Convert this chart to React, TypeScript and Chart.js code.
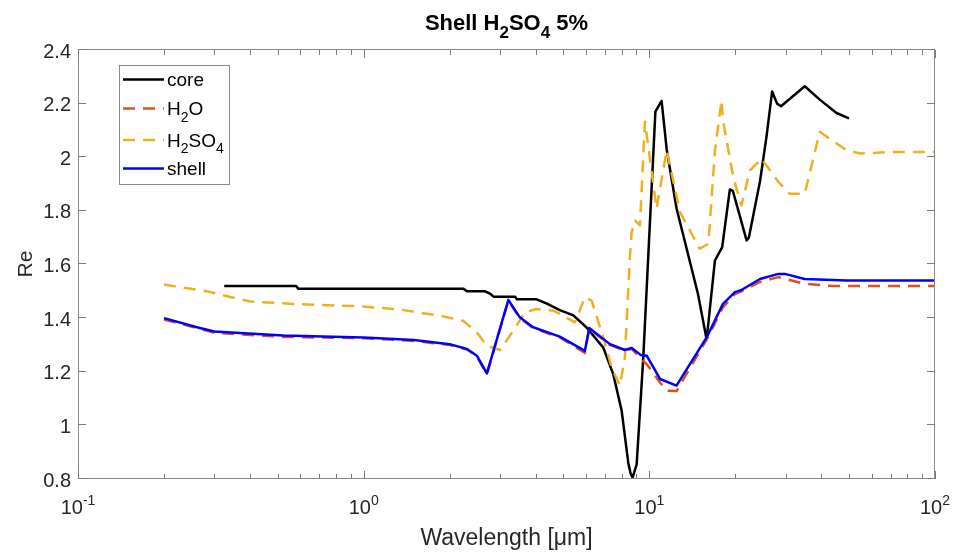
import { useEffect, useRef } from "react";
import { Chart, registerables } from "chart.js";
Chart.register(...registerables);

// ---- data (wavelength in µm, real refractive index) ----
const coreX = [0.325, 0.58, 0.59, 2.23, 2.3, 2.66, 2.78, 2.85, 3.39, 3.44, 4.03, 4.36, 4.86, 5.42, 6.03, 6.9, 7.48, 8.0, 8.44, 8.6, 8.74, 9.03, 9.52, 10.5, 11.04, 11.5, 12.45, 14.8, 15.87, 16.97, 17.99, 19.14, 19.6, 21.9, 22.3, 24.4, 25.7, 26.9, 28.0, 28.9, 35.0, 39.5, 45.2, 50.0];
const coreY = [1.52, 1.52, 1.51, 1.51, 1.5, 1.5, 1.49, 1.48, 1.48, 1.47, 1.47, 1.455, 1.43, 1.41, 1.365, 1.29, 1.19, 1.055, 0.86, 0.82, 0.805, 0.855, 1.25, 2.17, 2.21, 2.03, 1.81, 1.49, 1.32, 1.615, 1.665, 1.88, 1.875, 1.69, 1.7, 1.91, 2.075, 2.245, 2.2, 2.19, 2.265, 2.215, 2.165, 2.145];

const h2oX = [0.2, 0.267, 0.3, 0.523, 1.0, 1.5, 2.0, 2.3, 2.49, 2.7, 3.21, 3.52, 3.92, 4.86, 5.95, 6.16, 7.28, 8.21, 8.67, 9.35, 9.9, 10.9, 11.5, 12.45, 15.87, 18.1, 19.94, 21.0, 24.4, 28.3, 35.0, 43.5, 100];
const h2oY = [1.395, 1.36, 1.345, 1.33, 1.325, 1.315, 1.3, 1.283, 1.257, 1.19, 1.465, 1.4, 1.363, 1.328, 1.27, 1.36, 1.3, 1.278, 1.285, 1.25, 1.222, 1.16, 1.129, 1.128, 1.32, 1.44, 1.49, 1.5, 1.535, 1.553, 1.528, 1.52, 1.52];

const h2so4X = [0.2, 0.282, 0.4, 0.567, 0.97, 1.34, 1.85, 2.23, 2.49, 2.7, 3.0, 3.34, 3.67, 4.03, 4.61, 4.86, 5.49, 5.95, 6.28, 6.9, 7.38, 7.89, 8.21, 8.55, 8.67, 8.91, 9.27, 9.65, 9.83, 10.6, 11.5, 12.8, 15.0, 16.1, 16.97, 17.9, 18.1, 19.67, 21.0, 22.5, 24.7, 28.3, 31.0, 35.0, 39.5, 49.0, 54.8, 71.4, 100];
const h2so4Y = [1.525, 1.5, 1.462, 1.453, 1.444, 1.432, 1.409, 1.39, 1.347, 1.297, 1.281, 1.353, 1.422, 1.434, 1.428, 1.416, 1.384, 1.478, 1.465, 1.328, 1.216, 1.148, 1.253, 1.627, 1.72, 1.764, 1.746, 2.132, 2.07, 1.808, 2.026, 1.796, 1.659, 1.677, 2.026, 2.213, 2.138, 1.926, 1.82, 1.951, 1.995, 1.908, 1.864, 1.864, 2.095, 2.026, 2.014, 2.02, 2.02];

const shellX = [0.2, 0.267, 0.3, 0.523, 1.0, 1.5, 2.0, 2.3, 2.49, 2.7, 3.21, 3.52, 3.92, 4.86, 5.95, 6.16, 7.28, 8.21, 8.67, 9.35, 9.79, 10.9, 12.45, 15.87, 18.1, 19.94, 21.0, 24.4, 28.3, 29.8, 35.0, 49.0, 100];
const shellY = [1.4, 1.363, 1.35, 1.335, 1.328, 1.318, 1.303, 1.285, 1.26, 1.194, 1.468, 1.403, 1.366, 1.331, 1.278, 1.363, 1.303, 1.281, 1.289, 1.262, 1.26, 1.173, 1.148, 1.328, 1.453, 1.497, 1.505, 1.546, 1.565, 1.565, 1.546, 1.54, 1.54];

const xMajorTicks = [0.1, 1, 10, 100];
const xTickBase = ["10", "10", "10", "10"];
const xTickExp = ["-1", "0", "1", "2"];
const yTicks = [0.8, 1, 1.2, 1.4, 1.6, 1.8, 2, 2.2, 2.4];
const yTickLabels = ["0.8", "1", "1.2", "1.4", "1.6", "1.8", "2", "2.2", "2.4"];

type Part = { t: string; sub?: boolean };
const titleParts: Part[] = [{ t: "Shell H" }, { t: "2", sub: true }, { t: "SO" }, { t: "4", sub: true }, { t: " 5%" }];
const DASH = [12, 8];
const legendItems: { parts: Part[]; color: string; dash: number[] }[] = [
  { parts: [{ t: "core" }], color: "#000000", dash: [] },
  { parts: [{ t: "H" }, { t: "2", sub: true }, { t: "O" }], color: "#D95319", dash: DASH },
  { parts: [{ t: "H" }, { t: "2", sub: true }, { t: "SO" }, { t: "4", sub: true }], color: "#EDB120", dash: DASH },
  { parts: [{ t: "shell" }], color: "#0000FF", dash: [] },
];

const FONT = '"Liberation Sans", Arial, Helvetica, sans-serif';
const TXT = "#262626";

function richWidth(ctx: CanvasRenderingContext2D, parts: Part[], size: number, bold: boolean) {
  let w = 0;
  for (const p of parts) {
    ctx.font = `${bold ? "bold " : ""}${p.sub ? Math.round(size * 0.75) : size}px ${FONT}`;
    w += ctx.measureText(p.t).width;
  }
  return w;
}
function drawRich(ctx: CanvasRenderingContext2D, parts: Part[], x: number, baseline: number, size: number, bold: boolean) {
  let cx = x;
  for (const p of parts) {
    const s = p.sub ? Math.round(size * 0.75) : size;
    ctx.font = `${bold ? "bold " : ""}${s}px ${FONT}`;
    ctx.textAlign = "left";
    ctx.textBaseline = "alphabetic";
    ctx.fillText(p.t, cx, baseline + (p.sub ? size * 0.35 : 0));
    cx += ctx.measureText(p.t).width;
  }
}

const decor = {
  id: "decor",
  afterDatasetsDraw(chart: any) {
    const ctx: CanvasRenderingContext2D = chart.ctx;
    const { left, right, top, bottom } = chart.chartArea;
    const xs = chart.scales.x;
    const ys = chart.scales.y;
    ctx.save();
    // box
    ctx.strokeStyle = "#8a8a8a";
    ctx.lineWidth = 1;
    ctx.setLineDash([]);
    ctx.strokeRect(Math.round(left) + 0.5, Math.round(top) - 0.5, Math.round(right - left) - 1, Math.round(bottom - top));
    // ticks
    ctx.strokeStyle = "#7a7a7a";
    ctx.beginPath();
    for (let d = 0; d < xMajorTicks.length; d++) {
      const base = xMajorTicks[d];
      for (let m = 1; m <= 9; m++) {
        const v = base * m;
        if (v > 100.0001) break;
        const px = Math.round(xs.getPixelForValue(v)) + 0.5;
        const len = m === 1 ? 8 : 5;
        ctx.moveTo(px, bottom);
        ctx.lineTo(px, bottom - len);
        ctx.moveTo(px, top);
        ctx.lineTo(px, top + len);
      }
    }
    for (const v of yTicks) {
      const py = Math.round(ys.getPixelForValue(v)) - 0.5;
      ctx.moveTo(left, py);
      ctx.lineTo(left + 8, py);
      ctx.moveTo(right, py);
      ctx.lineTo(right - 8, py);
    }
    ctx.stroke();

    ctx.fillStyle = TXT;
    // y tick labels
    ctx.font = `20px ${FONT}`;
    ctx.textAlign = "right";
    ctx.textBaseline = "alphabetic";
    yTicks.forEach((v, i) => {
      ctx.fillText(yTickLabels[i], left - 7, ys.getPixelForValue(v) + 7.5);
    });
    // x tick labels with superscripts
    xMajorTicks.forEach((v, i) => {
      ctx.font = `20px ${FONT}`;
      const wb = ctx.measureText(xTickBase[i]).width;
      ctx.font = `14px ${FONT}`;
      const we = ctx.measureText(xTickExp[i]).width;
      const cx = xs.getPixelForValue(v);
      const x0 = cx - (wb + we) / 2;
      ctx.textAlign = "left";
      ctx.font = `20px ${FONT}`;
      ctx.fillText(xTickBase[i], x0, 514);
      ctx.font = `14px ${FONT}`;
      ctx.fillText(xTickExp[i], x0 + wb, 505);
    });
    // x title
    ctx.font = `23px ${FONT}`;
    ctx.textAlign = "center";
    ctx.fillText("Wavelength [\u03BCm]", (left + right) / 2, 545);
    // y title
    ctx.save();
    ctx.translate(32, 264);
    ctx.rotate(-Math.PI / 2);
    ctx.font = `21px ${FONT}`;
    ctx.textAlign = "center";
    ctx.fillText("Re", 0, 0);
    ctx.restore();
    // title
    ctx.fillStyle = "#000";
    const tw = richWidth(ctx, titleParts, 22, true);
    drawRich(ctx, titleParts, (left + right) / 2 - tw / 2, 30, 22, true);

    // legend
    const lx = 119.5, ly = 65.5, lw = 110, lh = 119;
    ctx.fillStyle = "#fff";
    ctx.fillRect(lx, ly, lw, lh);
    ctx.strokeStyle = "#8a8a8a";
    ctx.lineWidth = 1;
    ctx.strokeRect(lx, ly, lw, lh);
    const rowY = [79.5, 108.5, 140, 168.5];
    legendItems.forEach((it, i) => {
      const y = rowY[i];
      ctx.strokeStyle = it.color;
      ctx.lineWidth = 2.5;
      ctx.setLineDash(it.dash);
      ctx.beginPath();
      ctx.moveTo(123, y);
      ctx.lineTo(164, y);
      ctx.stroke();
      ctx.setLineDash([]);
      ctx.fillStyle = "#000";
      drawRich(ctx, it.parts, 167, y + 6.5, 19, false);
    });
    ctx.restore();
  },
};

const zip = (xs: number[], ys: number[]) => xs.map((x, i) => ({ x, y: ys[i] }));

export default function App() {
  const ref = useRef<HTMLCanvasElement | null>(null);
  useEffect(() => {
    if (!ref.current) return;
    const chart = new Chart(ref.current, {
      type: "line",
      data: {
        datasets: [
          { label: "core", data: zip(coreX, coreY), borderColor: "#000000", borderWidth: 2.5, order: 3 },
          { label: "H2O", data: zip(h2oX, h2oY), borderColor: "#D95319", borderWidth: 2.5, borderDash: DASH, order: 2 },
          { label: "H2SO4", data: zip(h2so4X, h2so4Y), borderColor: "#EDB120", borderWidth: 2.5, borderDash: DASH, order: 1 },
          { label: "shell", data: zip(shellX, shellY), borderColor: "#0000FF", borderWidth: 2.5, order: 0 },
        ],
      } as any,
      options: {
        animation: false,
        responsive: false,
        devicePixelRatio: 1,
        layout: { padding: { left: 78, right: 21, top: 50, bottom: 73 } },
        scales: {
          x: { type: "logarithmic", min: 0.1, max: 100, display: false },
          y: { type: "linear", min: 0.8, max: 2.4, display: false },
        },
        elements: { point: { radius: 0 }, line: { tension: 0, fill: false, borderJoinStyle: "round", borderCapStyle: "butt" } },
        plugins: { legend: { display: false }, tooltip: { enabled: false }, title: { display: false } },
      } as any,
      plugins: [decor],
    });
    return () => chart.destroy();
  }, []);
  return (
    <div style={{ position: "fixed", left: 0, top: 0, width: 956, height: 552, background: "#fff" }}>
      <canvas ref={ref} width={956} height={552} />
    </div>
  );
}
